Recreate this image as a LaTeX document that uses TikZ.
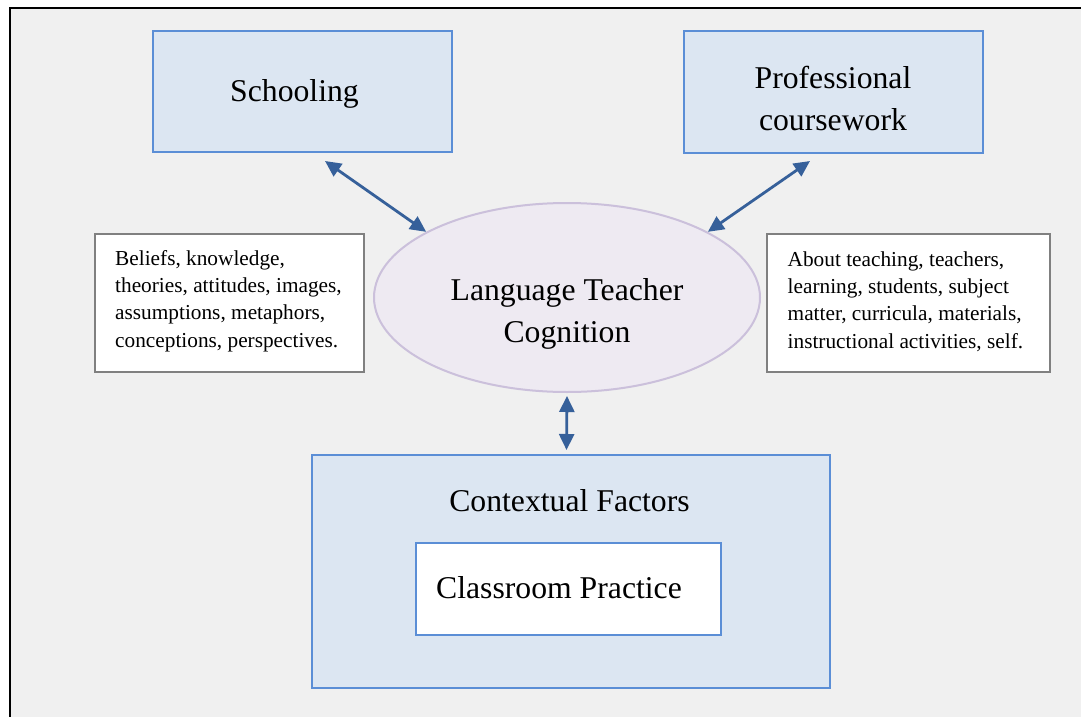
\documentclass[tikz,border=0pt]{standalone}
\usepackage{fontspec}
\setmainfont{Liberation Serif}
\usetikzlibrary{arrows.meta,shapes.geometric}
\definecolor{bgc}{HTML}{F0F0F0}
\definecolor{boxfill}{HTML}{DCE6F2}
\definecolor{boxline}{HTML}{5B8ED6}
\definecolor{ellfill}{HTML}{EEEAF2}
\definecolor{ellline}{HTML}{CBC0DB}
\definecolor{noteline}{HTML}{808080}
\definecolor{arrowc}{HTML}{36609A}
\begin{document}
\begin{tikzpicture}[x=1pt,y=-1pt,
  bluebox/.style={draw=boxline,fill=boxfill,line width=2pt,inner sep=0pt},
  whitebox/.style={draw=boxline,fill=white,line width=2pt,inner sep=0pt},
  notebox/.style={draw=noteline,fill=white,line width=2pt,inner sep=0pt},
  ellnode/.style={ellipse,draw=ellline,fill=ellfill,line width=2pt,inner sep=0pt},
  bigtext/.style={font=\fontsize{31.7}{42.4}\selectfont,inner sep=0pt},
  smalltext/.style={font=\fontsize{21.3}{27.3}\selectfont,inner sep=0pt,align=left,anchor=west},
  arr/.style={{Triangle[length=16pt,width=15pt]}-{Triangle[length=16pt,width=15pt]},line width=2.8pt,draw=arrowc}]
\useasboundingbox (0,0) rectangle (1081,717);
\fill[white] (0,0) rectangle (1081,717);
\fill[bgc] (9,8) rectangle (1081,717);
\draw[black,line width=2pt] (9.5,717) -- (9.5,8.5) -- (1081,8.5);

% top boxes
\node[bluebox,minimum width=299pt,minimum height=121pt] (school) at (302.5,91.5) {};
\node[bigtext,anchor=base] (schoolt) at (294.5,101.7) {Schooling};
\node[bluebox,minimum width=299pt,minimum height=122pt] (prof) at (833.5,92) {};
\node[bigtext,align=center] (proft) at (833,98.2) {Professional\\coursework};

% ellipse
\node[ellnode,minimum width=386pt,minimum height=189pt] (lt) at (567,297.5) {};
\node[bigtext,align=center] (ltt) at (567,314) {Language Teacher\\Cognition};

% note boxes
\node[notebox,minimum width=269pt,minimum height=138pt] (left) at (229.5,303) {};
\node[smalltext] (leftt) at (115,301) {Beliefs, knowledge,\\theories, attitudes, images,\\assumptions, metaphors,\\conceptions, perspectives.};
\node[notebox,minimum width=283pt,minimum height=138pt] (right) at (908.5,303) {};
\node[smalltext] (rightt) at (787.5,301.5) {About teaching, teachers,\\learning, students, subject\\matter, curricula, materials,\\instructional activities, self.};

% bottom boxes
\node[bluebox,minimum width=518pt,minimum height=233pt] (ctx) at (570.5,571.5) {};
\node[bigtext,anchor=base] (ctxt) at (569.5,511) {Contextual Factors};
\node[whitebox,minimum width=305pt,minimum height=92pt] (cp) at (568,588.5) {};
\node[bigtext,anchor=base west] (cpt) at (436,598) {Classroom Practice};

% arrows
\draw[arr] ([xshift=22.5pt,yshift=-8pt]school.south) -- (lt.155);
\draw[arr] ([xshift=-23.5pt,yshift=-7pt]prof.south) -- (lt.25);
\draw[arr] ([yshift=-3pt]lt.south) -- ([xshift=-4pt,yshift=4pt]ctx.north);
\end{tikzpicture}
\end{document}
